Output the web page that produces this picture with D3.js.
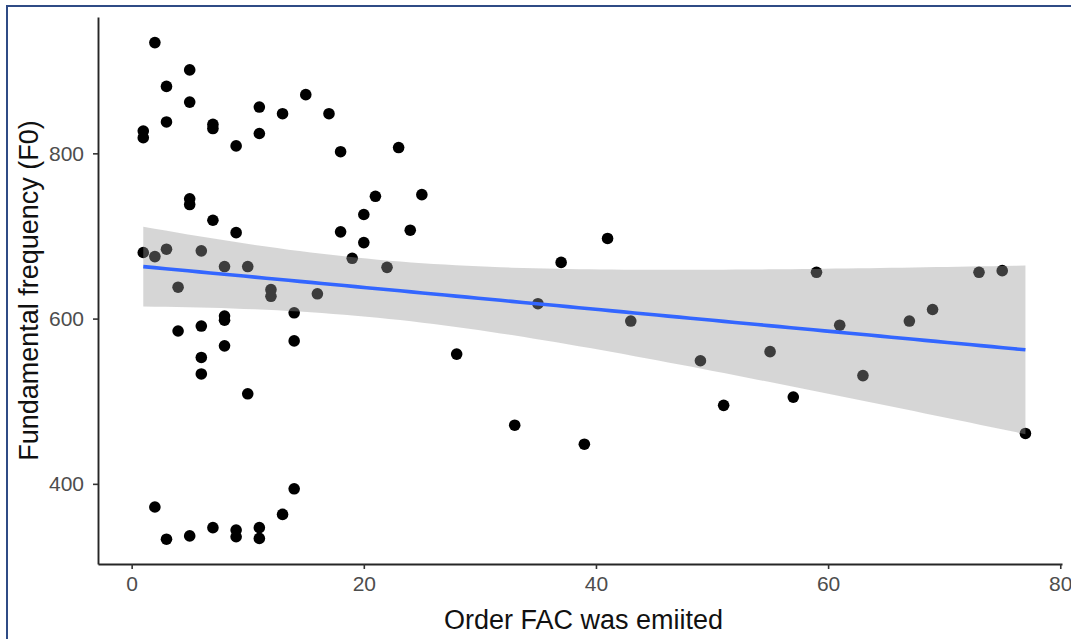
<!DOCTYPE html>
<html>
<head>
<meta charset="utf-8">
<script src="https://cdn.jsdelivr.net/npm/d3@7"></script>
<style>
  html, body { margin: 0; padding: 0; background: #fff; }
  svg { display: block; font-family: "Liberation Sans", Arial, sans-serif; }
</style>
</head>
<body>
<div id="chart"></div>
<script>
// Order in which each FAC was emitted (x) and its F0 (y)
const order = [
  1, 1, 1, 2, 2, 2, 3, 3, 3, 3, 4, 4,
  5, 5, 5, 5, 5, 6, 6, 6, 6, 7, 7, 7, 7,
  8, 8, 8, 8, 9, 9, 9, 9, 10, 10, 11, 11, 11, 11,
  12, 12, 13, 13, 14, 14, 14, 15, 16, 17, 18, 18, 19,
  20, 20, 21, 22, 23, 24, 25,
  28, 33, 35, 37, 39, 41, 43, 49, 51, 55, 57, 59, 61, 63, 67, 69, 73, 75, 77
];
const f0 = [
  827, 819, 680, 934, 675, 372, 881, 838, 684, 333, 638, 585,
  901, 862, 745, 738, 337, 682, 591, 553, 533, 835, 830, 719, 347,
  663, 603, 598, 567, 809, 704, 344, 336, 663, 509, 856, 824, 347, 334,
  635, 627, 848, 363, 607, 573, 394, 871, 630, 848, 802, 705, 673,
  726, 692, 748, 662, 807, 707, 750,
  557, 471, 618, 668, 448, 697, 597, 549, 495, 560, 505, 656, 592, 531, 597, 611, 656, 658, 461
];
const xTicks = [0, 20, 40, 60, 80];
const yTicks = [400, 600, 800];
const xTitle = "Order FAC was emiited";
const yTitle = "Fundamental frequency (F0)";

const W = 1071, H = 639;
const padL = 98, padR = 1062, padT = 17, padB = 564;

const svg = d3.select("#chart").append("svg")
  .attr("width", W)
  .attr("height", H);

// cadre bleu de la capture
svg.append("rect")
  .attr("x", 7).attr("y", 6)
  .attr("width", W + 20).attr("height", H + 20)
  .attr("fill", "none")
  .attr("stroke", "#2f4b85")
  .attr("stroke-width", 2);

const x = d3.scaleLinear().domain([-2.9, 80.15]).range([padL, padR]);
const y = d3.scaleLinear().domain([303, 965]).range([padB, padT]);

// points
const pts = order.map((o, i) => ({ o, v: f0[i] }));
svg.append("g")
  .selectAll("circle")
  .data(pts)
  .enter()
  .append("circle")
  .attr("cx", d => x(d.o))
  .attr("cy", d => y(d.v))
  .attr("r", 5.8)
  .attr("fill", "#000");

// régression linéaire + intervalle de confiance 95 %
const n = pts.length;
const mx = d3.mean(order), my = d3.mean(f0);
const sxx = d3.sum(order, o => (o - mx) * (o - mx));
const sxy = d3.sum(pts, d => (d.o - mx) * (d.v - my));
const b = sxy / sxx, a = my - b * mx;
const s = Math.sqrt(d3.sum(pts, d => Math.pow(d.v - (a + b * d.o), 2)) / (n - 2));
const tq = 1.992; // qt(0.975, n - 2)

const xmin = d3.min(order), xmax = d3.max(order);
const grid = d3.range(80).map(i => {
  const gx = xmin + (xmax - xmin) * i / 79;
  const fit = a + b * gx;
  const se = s * Math.sqrt(1 / n + (gx - mx) * (gx - mx) / sxx);
  return { gx, fit, lo: fit - tq * se, hi: fit + tq * se };
});

svg.append("path")
  .datum(grid)
  .attr("d", d3.area()
    .x(d => x(d.gx))
    .y0(d => y(d.lo))
    .y1(d => y(d.hi)))
  .attr("fill", "#999999")
  .attr("fill-opacity", 0.4);

svg.append("path")
  .datum(grid)
  .attr("d", d3.line()
    .x(d => x(d.gx))
    .y(d => y(d.fit)))
  .attr("fill", "none")
  .attr("stroke", "#3366FF")
  .attr("stroke-width", 3.6);

// axes
const xAxis = svg.append("g")
  .attr("transform", `translate(0,${padB})`)
  .call(d3.axisBottom(x).tickValues(xTicks).tickSize(5).tickSizeOuter(0).tickPadding(7));
const yAxis = svg.append("g")
  .attr("transform", `translate(${padL},0)`)
  .call(d3.axisLeft(y).tickValues(yTicks).tickSize(5).tickSizeOuter(0).tickPadding(9));

[xAxis, yAxis].forEach(g => {
  g.select(".domain").attr("stroke", "#262626").attr("stroke-width", 1.9);
  g.selectAll(".tick line").attr("stroke", "#333").attr("stroke-width", 1.6);
  g.selectAll(".tick text")
    .attr("fill", "#4d4d4d")
    .style("font-size", "21px")
    .style("font-family", "Liberation Sans, Arial, sans-serif");
});

// titres
svg.append("text")
  .attr("x", (padL + 1069) / 2)
  .attr("y", 629)
  .attr("text-anchor", "middle")
  .attr("fill", "#111")
  .style("font-size", "27px")
  .text(xTitle);

svg.append("text")
  .attr("transform", `translate(38,${(padT + padB) / 2}) rotate(-90)`)
  .attr("text-anchor", "middle")
  .attr("fill", "#111")
  .style("font-size", "27px")
  .text(yTitle);
</script>
</body>
</html>
